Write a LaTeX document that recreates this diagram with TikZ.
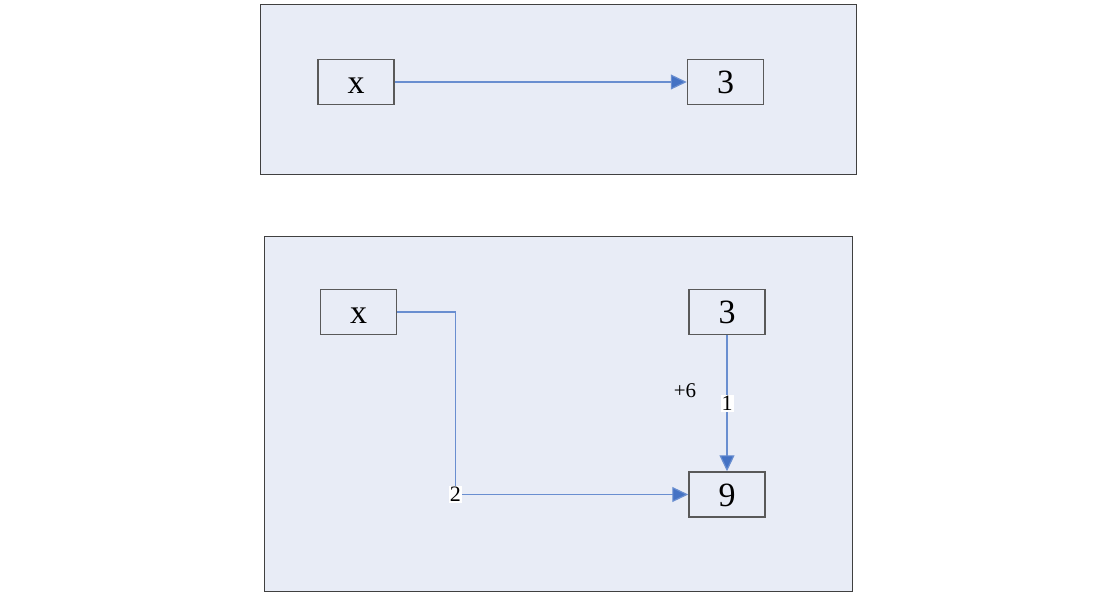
\documentclass[tikz,border=0pt]{standalone}
\usepackage{fontspec}
\setmainfont{Liberation Serif}
\usetikzlibrary{arrows.meta,positioning}
\definecolor{panelbg}{HTML}{E8ECF6}
\definecolor{linkblue}{HTML}{4472C4}

\begin{document}
\begin{tikzpicture}[x=1pt,y=-1pt,
  panel/.style={draw=black!75,fill=panelbg,line width=1pt},
  box/.style={draw=black!65,line width=1.5pt,minimum width=76pt,minimum height=45pt,inner sep=0pt,text height=23pt,text depth=0pt,font=\fontsize{34}{36}\selectfont},
  link/.style={draw=linkblue!80,line width=1.2pt,-{Triangle[length=16pt,width=15pt,fill=linkblue]}},
  tag/.style={fill=white,inner sep=1pt,font=\fontsize{22}{24}\selectfont}]
\useasboundingbox (0,0) rectangle (1114,602);
% panels
\path[panel] (260,5) rectangle (856,174);
\path[panel] (264,236) rectangle (852,591);
% top panel
\node[box] (topx) at (356,82) {x};
\node[box,right=292pt of topx] (topthree) {3};
\draw[link] (topx) -- (topthree);
% bottom panel
\node[box] (botx) at (358.5,312) {x};
\node[box] (botthree) at (727,312) {3};
\node[box,below=136pt of botthree] (nine) {9};
\node[font=\fontsize{21}{23}\selectfont] (plussix) at (685,391) {+6};
\draw[link] (botx.east) -- ++(58,0) |- node[tag]{2} (nine.west);
\draw[link] (botthree) -- node[tag]{1} (nine);
\end{tikzpicture}
\end{document}
